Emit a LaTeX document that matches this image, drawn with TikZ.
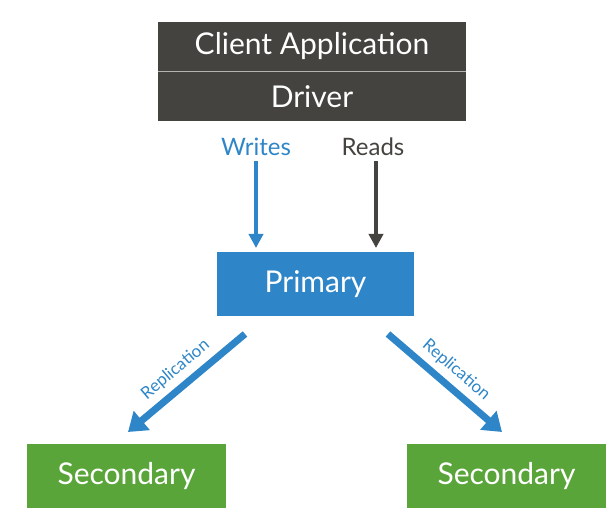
\documentclass[tikz,border=0pt]{standalone}
\usepackage{fontspec}
\setmainfont{Lato}
\usetikzlibrary{arrows.meta}
\definecolor{dk}{HTML}{45433F}
\definecolor{bl}{HTML}{2E86C8}
\definecolor{gr}{HTML}{5AA53A}
\begin{document}
\begin{tikzpicture}[x=1pt,y=-1pt,
 box/.style={draw=none,minimum height=49pt,text=white,font=\fontsize{30}{32}\selectfont,inner sep=0pt},
 lab/.style={font=\fontsize{24}{26}\selectfont},
 rep/.style={font=\fontsize{17}{18}\selectfont,text=bl},
 thin arr/.style={line width=3.5pt,-{Triangle[length=14pt,width=14pt]}},
 big arr/.style={line width=7pt,-{Triangle[length=18pt,width=24pt]}}]
\useasboundingbox (0,0) rectangle (614,524);
\node[box,fill=dk,minimum width=308pt] (client) at (312,46.5) {Client Application};
\node[box,fill=dk,minimum width=308pt] (driver) at (312,96.5) {Driver};
\draw[white!60!dk,line width=1pt] (client.south west) -- (client.south east);
\node[lab,text=bl] (w) at (256,147) {Writes};
\node[lab,text=dk] (r) at (373,147) {Reads};
\node[box,fill=bl,minimum width=197pt,minimum height=64pt] (p) at (315.5,284) {Primary};
\node[box,fill=gr,minimum width=199pt,minimum height=64pt] (s1) at (126.5,476) {Secondary};
\node[box,fill=gr,minimum width=199pt,minimum height=64pt] (s2) at (506.5,476) {Secondary};
\coordinate (wt) at (256,248); \coordinate (rt) at (376,248);
\draw[thin arr,bl] (w.south -| wt) ++(0,2) -- (wt);
\draw[thin arr,dk] (r.south -| rt) ++(0,2) -- (rt);
\coordinate (l0) at (245,334); \coordinate (l1) at (128,432);
\coordinate (r0) at (388,334); \coordinate (r1) at (502,432);
\draw[big arr,bl] (l0) -- (l1) node[rep,midway,sloped,above=5pt,inner sep=1pt] {Replication};
\draw[big arr,bl] (r0) -- (r1) node[rep,midway,sloped,above=5pt,inner sep=1pt] {Replication};
\end{tikzpicture}
\end{document}
